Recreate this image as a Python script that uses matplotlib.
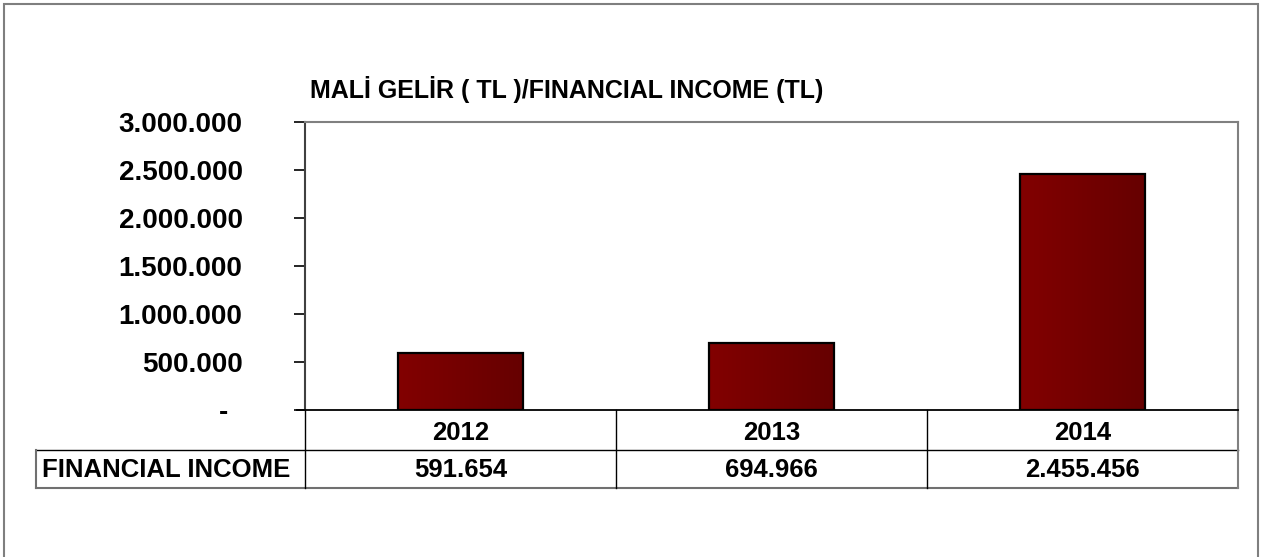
import numpy as np
import matplotlib.pyplot as plt
from matplotlib.lines import Line2D
from matplotlib.patches import Rectangle
from matplotlib.colors import LinearSegmentedColormap
import matplotlib.transforms as mtransforms

plt.rcParams['font.family'] = ['Liberation Sans', 'DejaVu Sans']
plt.rcParams['font.weight'] = 'bold'

# data
years = ['2012', '2013', '2014']
income = [591654, 694966, 2455456]
income_labels = ['591.654', '694.966', '2.455.456']
row_label = 'FINANCIAL INCOME'
title = 'MALİ GELİR ( TL )/FINANCIAL INCOME (TL)'
yticks = [0, 500000, 1000000, 1500000, 2000000, 2500000, 3000000]
ytick_labels = ['-', '500.000', '1.000.000', '1.500.000', '2.000.000', '2.500.000', '3.000.000']

W, H = 1265, 557
fig = plt.figure(figsize=(W / 100, H / 100), dpi=100)

# outer frame (bottom edge runs off the picture)
fig.patches.append(Rectangle((3.5 / W, -10 / H), 1254.5 / W, (H - 4 + 10) / H,
                             transform=fig.transFigure, fill=False,
                             edgecolor='#7f7f7f', lw=1.5))

# plot area in pixels: x 305..1238, y 122..410
L, R, T, B = 305, 1238, 122, 410
ax = fig.add_axes([L / W, 1 - B / H, (R - L) / W, (B - T) / H])
AW, AH = R - L, B - T


def ay(ypx):
    # pixel row -> axes fraction
    return (B - ypx) / AH


def axx(xpx):
    return (xpx - L) / AW


x = np.arange(len(years))
bars = ax.bar(x, income, width=0.4, color='none', edgecolor='black', lw=1.6, zorder=3)

# horizontal gradient fill for bars
grad = np.linspace(0, 1, 100).reshape(1, -1)
cmap = LinearSegmentedColormap.from_list('bar', ['#820000', '#660000'])
for b in bars:
    im = ax.imshow(grad, cmap=cmap, aspect='auto', zorder=2,
                   extent=[b.get_x(), b.get_x() + b.get_width(), 0, b.get_height()])
    im.set_clip_path(b)

ax.set_xlim(-0.5, len(years) - 0.5)
ax.set_ylim(0, 3000000)
ax.set_yticks(yticks)
ax.set_yticklabels(ytick_labels, fontsize=20, fontweight='bold')
ax.tick_params(axis='y', length=8, width=1.2, pad=37)
# the "-" for zero sits a bit further left (accounting format padding)
zl = ax.get_yticklabels()[0]
zl.set_transform(zl.get_transform() + mtransforms.ScaledTranslation(-0.14, 0, fig.dpi_scale_trans))
ax.set_xticks([])
ax.spines['top'].set_color('#808080')
ax.spines['top'].set_linewidth(1.5)
ax.spines['right'].set_color('#808080')
ax.spines['right'].set_linewidth(1.5)
ax.spines['left'].set_color('#404040')
ax.spines['left'].set_linewidth(1.5)
ax.spines['bottom'].set_visible(False)
ax.add_line(Line2D([axx(297), 1], [0, 0], color='black', lw=1.3, zorder=4,
                   clip_on=False, transform=ax.transAxes))

fig.text(310 / W, 1 - 98 / H, title, fontsize=18, fontweight='bold', va='baseline', ha='left')

# data table below the plot
tr = mtransforms.blended_transform_factory(ax.transData, ax.transAxes)
y_mid, y_bot = ay(450), ay(488)
tb_left = axx(36)
kw = dict(clip_on=False, transform=ax.transAxes)
ax.add_line(Line2D([tb_left, 1], [y_mid, y_mid], color='black', lw=1.0, **kw))
ax.add_line(Line2D([tb_left, 1], [y_bot, y_bot], color='#707070', lw=1.5, **kw))
ax.add_line(Line2D([tb_left, tb_left], [y_mid, y_bot], color='#707070', lw=1.5, **kw))
ax.add_line(Line2D([0, 0], [0, y_bot], color='black', lw=1.0, **kw))
ax.add_line(Line2D([1, 1], [0, y_bot], color='#808080', lw=1.5, **kw))
for i in range(1, len(years)):
    ax.add_line(Line2D([i - 0.5, i - 0.5], [0, y_bot], color='black', lw=1.0,
                       clip_on=False, transform=tr))

for i, (yr, lab) in enumerate(zip(years, income_labels)):
    ax.text(i, ay(440), yr, transform=tr, ha='center', va='baseline', fontsize=18.5, fontweight='bold')
    ax.text(i, ay(477), lab, transform=tr, ha='center', va='baseline', fontsize=18.5, fontweight='bold')
ax.text(axx(42), ay(477), row_label, transform=ax.transAxes, ha='left', va='baseline',
        fontsize=18.5, fontweight='bold')

fig.savefig('out.png', dpi=100)
